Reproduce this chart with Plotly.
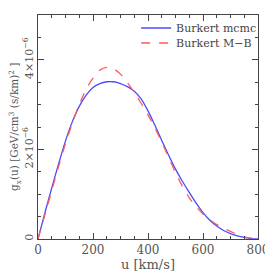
import plotly.graph_objects as go

u = [0, 25, 50, 75, 100, 125, 150, 175, 200, 225, 250, 275, 300, 325, 350, 375, 400,
     425, 450, 475, 500, 525, 550, 575, 600, 625, 650, 675, 700, 725, 750, 775, 800]

g_mcmc = [0, 0.58, 1.14, 1.68, 2.19, 2.62, 2.96, 3.21, 3.38, 3.47, 3.51, 3.51, 3.47, 3.40,
          3.30, 3.13, 2.86, 2.54, 2.20, 1.87, 1.56, 1.29, 1.04, 0.80, 0.59, 0.42, 0.29,
          0.19, 0.12, 0.07, 0.035, 0.01, 0.0]

g_mb = [0, 0.54, 1.08, 1.62, 2.13, 2.59, 3.00, 3.34, 3.59, 3.77, 3.83, 3.80, 3.68, 3.49,
        3.27, 3.03, 2.77, 2.48, 2.16, 1.82, 1.48, 1.18, 0.92, 0.72, 0.56, 0.43, 0.32,
        0.24, 0.17, 0.10, 0.05, 0.02, 0.005]

scale = 1e-6
y_mcmc = [v * scale for v in g_mcmc]
y_mb = [v * scale for v in g_mb]

xticks = [0, 200, 400, 600, 800]
yticks = [0, 2e-6, 4e-6]
yticktext = ["0", "2×10<sup>−6</sup>", "4×10<sup>−6</sup>"]
ytitle = "g<sub>x</sub>(u) [GeV/cm<sup>3</sup> (s/km)<sup>2</sup> ]"

font = "DejaVu Serif"
axcol = "#444444"

fig = go.Figure()
fig.add_trace(go.Scatter(x=u, y=y_mcmc, mode="lines", name="Burkert mcmc", legend="legend",
                         line=dict(color="#4a4aff", width=1.3, shape="spline", smoothing=0.6)))
fig.add_trace(go.Scatter(x=u, y=y_mb, mode="lines", name="Burkert M−B", legend="legend2",
                         line=dict(color="#ff5a5a", width=1.3, dash="dash", shape="spline",
                                   smoothing=0.6)))

legend_common = dict(xanchor="left", yanchor="middle", bgcolor="rgba(0,0,0,0)",
                     font=dict(size=11, color="#444444"), itemwidth=30)

fig.update_layout(
    width=265, height=265,
    margin=dict(l=30, r=15, t=7, b=34, autoexpand=False),
    paper_bgcolor="white", plot_bgcolor="white",
    font=dict(family=font, size=12, color="#555555"),
    showlegend=True,
    legend=dict(x=0.446, y=0.942, **legend_common),
    legend2=dict(x=0.446, y=0.875, **legend_common),
    annotations=[dict(text=ytitle, xref="paper", yref="paper", x=-0.1045, y=0.5,
                      xanchor="center", yanchor="middle", textangle=-90, showarrow=False,
                      font=dict(size=10.5, color="#555555"))],
)
fig.update_xaxes(
    range=[0, 800], tickvals=xticks, ticks="inside", ticklen=6, tickcolor=axcol,
    showline=True, linecolor=axcol, linewidth=1, mirror="ticks", showgrid=False,
    zeroline=False, automargin=False,
    minor=dict(dtick=50, ticks="inside", ticklen=3, tickcolor=axcol, showgrid=False),
    title=dict(text="u [km/s]", standoff=2, font=dict(size=13)),
    tickfont=dict(size=12),
)
fig.update_yaxes(
    range=[0, 5e-6], tickvals=yticks, ticktext=yticktext, ticks="inside", ticklen=6,
    tickcolor=axcol, tickangle=-90,
    showline=True, linecolor=axcol, linewidth=1, mirror="ticks", showgrid=False,
    zeroline=False, automargin=False,
    minor=dict(dtick=0.5e-6, ticks="inside", ticklen=3, tickcolor=axcol, showgrid=False),
    tickfont=dict(size=11),
)

fig.write_html("out.html")
